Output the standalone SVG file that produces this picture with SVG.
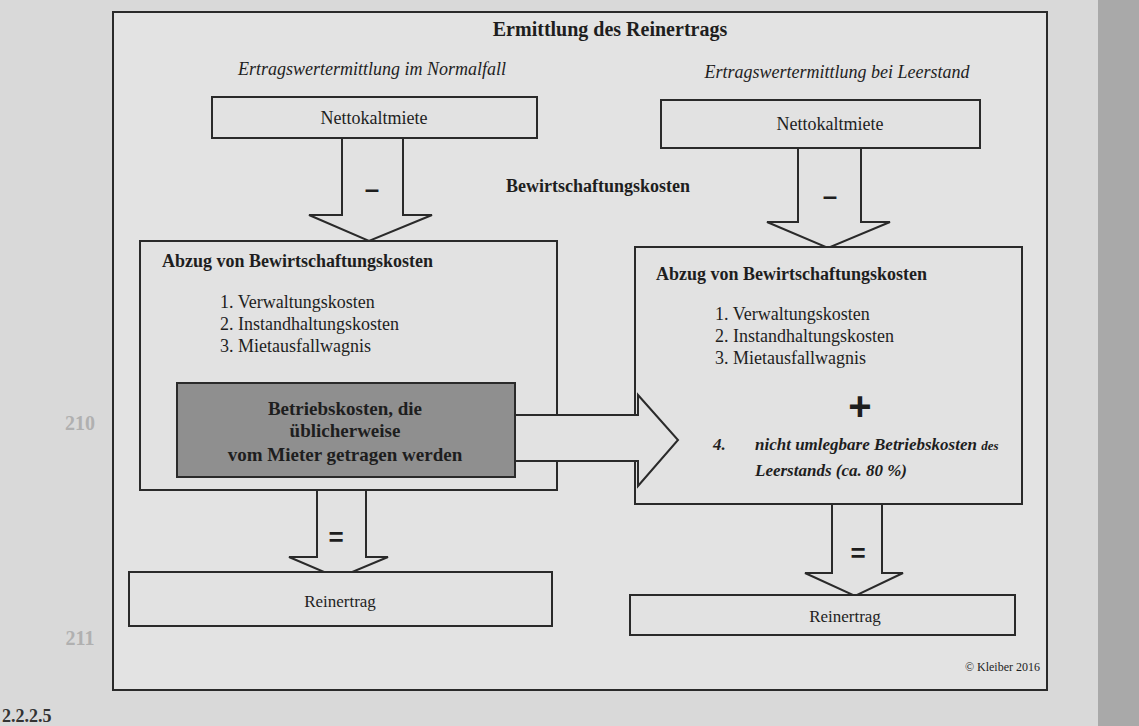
<svg xmlns="http://www.w3.org/2000/svg" width="1139" height="726" viewBox="0 0 1139 726">
<style>
text{font-family:"Liberation Serif","Times New Roman",serif;fill:#1e1e1e}
.box{fill:#e2e2e2;stroke:#2a2a2a;stroke-width:2}
.arr{fill:#e2e2e2;stroke:#2a2a2a;stroke-width:2;stroke-linejoin:miter}
.b{font-weight:bold}
.i{font-style:italic}
.c{text-anchor:middle}
.lst{font-size:18px}
.hd{font-size:18px;font-weight:bold}
.sign{font-family:"Liberation Sans",Arial,sans-serif;font-weight:bold;font-size:26px;text-anchor:middle}
</style>
<rect x="0" y="0" width="1139" height="726" fill="#d9d9d9"/>
<rect x="1098" y="0" width="41" height="726" fill="#a9a9a9"/>
<text x="80" y="430" class="c b" font-size="20" fill="#b0b0b0" style="fill:#b0b0b0">210</text>
<text x="80" y="645" class="c b" font-size="20" style="fill:#b0b0b0">211</text>
<text x="2" y="722" class="b" font-size="18" style="fill:#333">2.2.2.5</text>

<g id="frame">
<rect x="113" y="12" width="934" height="678" fill="#e3e3e3" stroke="#2a2a2a" stroke-width="2"/>
<text x="610" y="36" class="c b" font-size="20">Ermittlung des Reinertrags</text>
<text x="372" y="75" class="c i" font-size="18">Ertragswertermittlung im Normalfall</text>
<text x="837" y="78" class="c i" font-size="18">Ertragswertermittlung bei Leerstand</text>
<text x="598" y="192" class="c b" font-size="18">Bewirtschaftungskosten</text>
<text x="1040" y="671" text-anchor="end" font-size="12">© Kleiber 2016</text>
</g>

<g id="connectors">
<g id="arrow-left-minus">
<polygon class="arr" points="342,138 403,138 403,215 432,215 369,241 309,215 342,215"/>
<text x="372" y="198" class="sign">–</text>
</g>
<g id="arrow-right-minus">
<polygon class="arr" points="798,148 861,148 861,222 890,222 828,248 767,222 798,222"/>
<text x="830" y="205" class="sign">–</text>
</g>
<g id="arrow-left-equals">
<polygon class="arr" points="317,490 366,490 366,557 388,557 338,578 289,557 317,557"/>
<text x="336" y="546" class="sign">=</text>
</g>
<g id="arrow-right-equals">
<polygon class="arr" points="832,504 882,504 882,573 903,573 855,596 805,573 832,573"/>
<text x="858" y="562" class="sign">=</text>
</g>
</g>

<g id="netto-left">
<rect class="box" x="212" y="97" width="325" height="41"/>
<text x="374" y="124" class="c" font-size="18">Nettokaltmiete</text>
</g>
<g id="netto-right">
<rect class="box" x="661" y="100" width="319" height="48"/>
<text x="830" y="130" class="c" font-size="18">Nettokaltmiete</text>
</g>

<g id="abzug-left">
<rect class="box" x="140" y="241" width="417" height="249"/>
<text x="162" y="267" class="hd">Abzug von Bewirtschaftungskosten</text>
<text x="220" y="308" class="lst">1. Verwaltungskosten</text>
<text x="220" y="330" class="lst">2. Instandhaltungskosten</text>
<text x="220" y="352" class="lst">3. Mietausfallwagnis</text>
</g>

<g id="abzug-right">
<rect class="box" x="635" y="247" width="387" height="257"/>
<text x="656" y="280" class="hd">Abzug von Bewirtschaftungskosten</text>
<text x="715" y="320" class="lst">1. Verwaltungskosten</text>
<text x="715" y="342" class="lst">2. Instandhaltungskosten</text>
<text x="715" y="364" class="lst">3. Mietausfallwagnis</text>
<text x="860" y="420" class="c b" font-size="40" style="font-family:'Liberation Sans',Arial,sans-serif">+</text>
<text x="713" y="450" class="b i" font-size="17">4.</text>
<text x="755" y="450" class="b i" font-size="17">nicht umlegbare Betriebskosten <tspan font-size="13">des</tspan></text>
<text x="755" y="476" class="b i" font-size="17">Leerstands (ca. 80 %)</text>
</g>

<g id="arrow-betriebskosten">
<polygon class="arr" points="515,415 638,415 638,395 678,440 638,486 638,461 515,461"/>
</g>

<g id="betriebskosten">
<rect x="177" y="383" width="338" height="94" fill="#8f8f8f" stroke="#2a2a2a" stroke-width="2"/>
<text x="345" y="415" class="c b" font-size="19">Betriebskosten, die</text>
<text x="345" y="437" class="c b" font-size="19">üblicherweise</text>
<text x="345" y="461" class="c b" font-size="19">vom Mieter getragen werden</text>
</g>

<g id="rein-left">
<rect class="box" x="129" y="572" width="423" height="54"/>
<text x="340" y="607" class="c" font-size="17">Reinertrag</text>
</g>
<g id="rein-right">
<rect class="box" x="630" y="595" width="385" height="40"/>
<text x="845" y="622" class="c" font-size="17">Reinertrag</text>
</g>
</svg>
